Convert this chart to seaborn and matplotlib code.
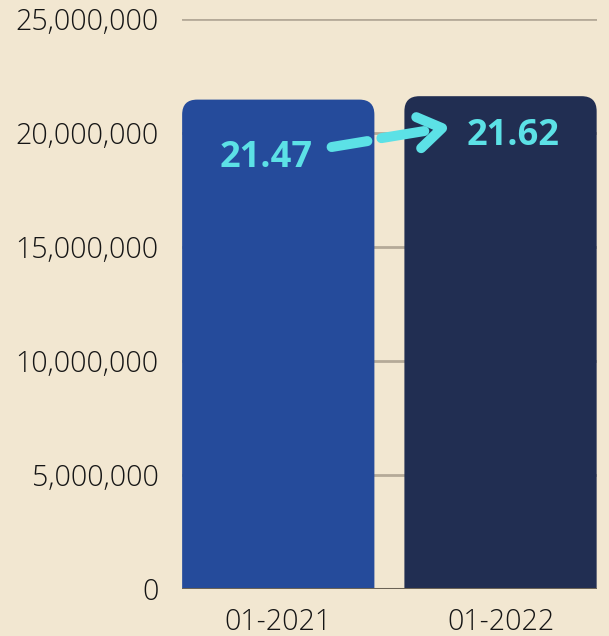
import matplotlib
matplotlib.use("Agg")
import matplotlib.pyplot as plt
import seaborn as sns
import pandas as pd
from matplotlib.patches import FancyBboxPatch
from matplotlib.ticker import FuncFormatter

periodos = ["01-2021", "01-2022"]
valores = [21470000, 21620000]
etiquetas = ["21.47", "21.62"]
colores = ["#254B9B", "#212E52"]

FONDO = "#F2E7D1"
GRID = "#B5AA98"
TEXTO = "#151515"
CIAN = "#5CE1E6"

sns.set_theme(style="white")
plt.rcParams["font.family"] = ["Open Sans", "DejaVu Sans"]

df = pd.DataFrame({"periodo": periodos, "valor": valores})

fig = plt.figure(figsize=(6.09, 6.36), dpi=100, facecolor=FONDO)
ax = fig.add_axes([0.2989, 0.0739, 0.681, 0.896])
ax.set_facecolor(FONDO)

sns.barplot(data=df, x="periodo", y="valor", hue="periodo", palette=colores,
            width=0.865, saturation=1, legend=False, ax=ax, zorder=3)

ax.set_xlim(-0.433, 1.433)
ax.set_ylim(0, 25e6)

# bordes superiores redondeados
radio_x = 15 / 223
radio_y = 15 / 114 * 5e6
for p in list(ax.patches):
    x, w, h = p.get_x(), p.get_width(), p.get_height()
    c = p.get_facecolor()
    p.remove()
    caja = FancyBboxPatch((x, -2e6), w, h + 2e6,
                          boxstyle=f"round,pad=0,rounding_size={radio_x}",
                          mutation_aspect=radio_y / radio_x,
                          facecolor=c, edgecolor="none", zorder=3)
    ax.add_patch(caja)

ax.set_yticks([0, 5e6, 10e6, 15e6, 20e6, 25e6])
ax.yaxis.set_major_formatter(FuncFormatter(lambda v, _: f"{int(v):,}"))
ax.grid(axis="y", color=GRID, linewidth=2, zorder=0)
ax.grid(axis="x", visible=False)
for s in ax.spines.values():
    s.set_visible(False)
ax.axhline(0, color="#6B6356", linewidth=2.2, zorder=4)

ax.tick_params(axis="y", length=0, pad=17, labelsize=20.6, labelcolor=TEXTO)
ax.tick_params(axis="x", length=0, pad=13.5, labelsize=20.6, labelcolor=TEXTO)
for t in ax.get_xticklabels() + ax.get_yticklabels():
    t.set_fontweight("light")
ax.set_xlabel("")
ax.set_ylabel("")

# etiquetas de valor
pos_lbl = [(-0.056, 18.90e6), (1.056, 19.87e6)]
for (lx, ly), txt in zip(pos_lbl, etiquetas):
    ax.text(lx, ly, txt, color=CIAN, fontsize=26, fontweight="bold",
            ha="center", va="center", zorder=5)

# flecha (dos trazos + punta)
estilo = dict(color=CIAN, lw=7.2, solid_capstyle="round",
              solid_joinstyle="round", zorder=5)
ax.plot([0.240, 0.401], [19.39e6, 19.65e6], **estilo)
ax.plot([0.464, 0.657], [19.78e6, 20.09e6], **estilo)
ax.plot([0.621, 0.737, 0.643], [20.70e6, 20.22e6, 19.34e6], **estilo)

plt.savefig("out.png", dpi=100, facecolor=FONDO)
plt.close()
